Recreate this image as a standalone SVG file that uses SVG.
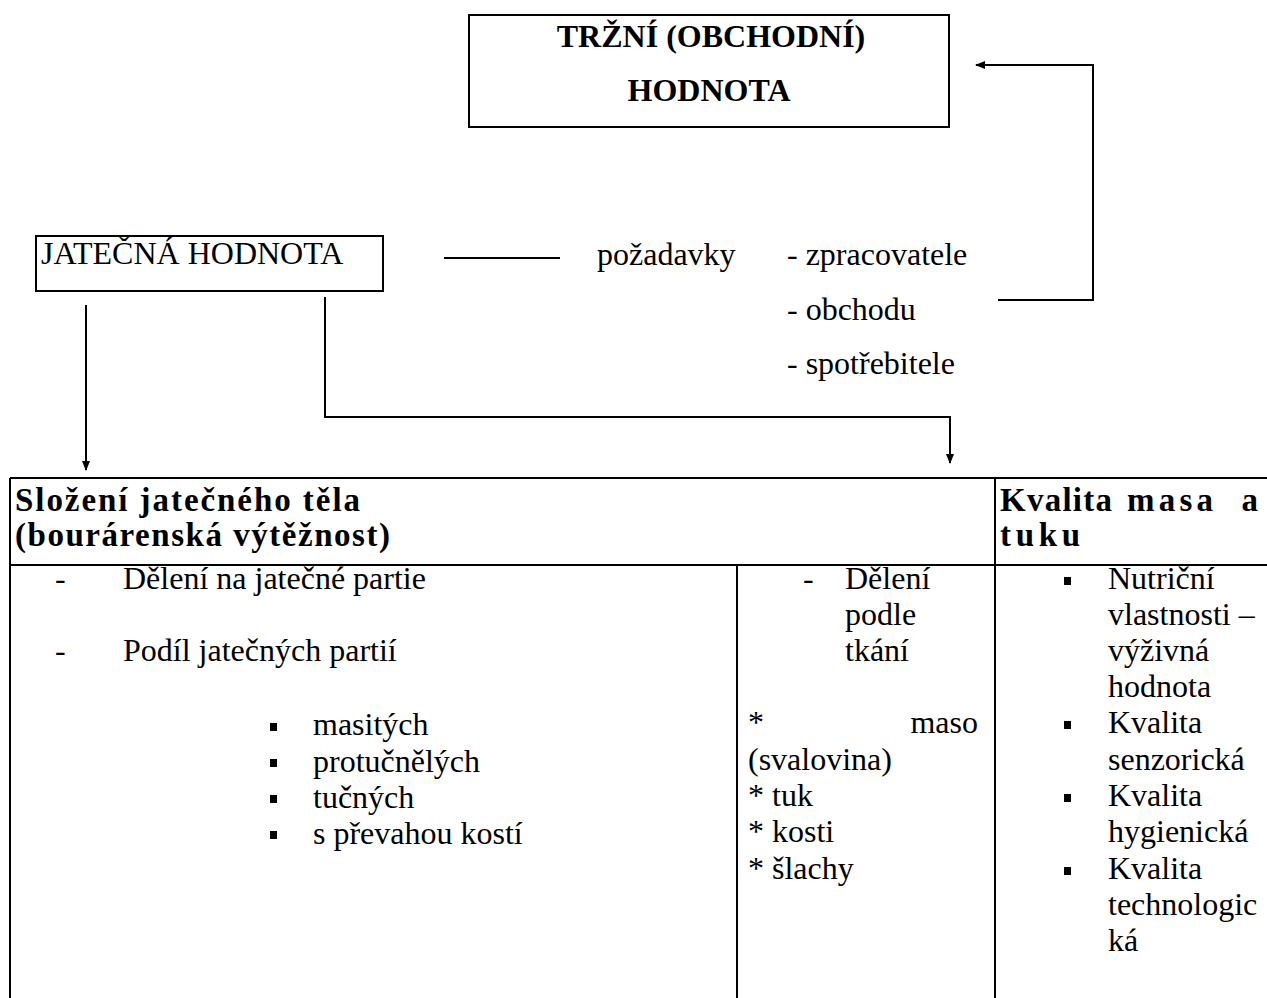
<svg xmlns="http://www.w3.org/2000/svg" width="1267" height="998" viewBox="0 0 1267 998">
<style>
.t{font-family:"Liberation Serif","Times New Roman",serif;font-size:32px;fill:#000}
.b{font-family:"Liberation Serif","Times New Roman",serif;font-size:33px;font-weight:bold;fill:#000}
.h{font-family:"Liberation Serif","Times New Roman",serif;font-size:32px;font-weight:bold;fill:#000}
.ln{stroke:#000;stroke-width:2;fill:none}
.box{stroke:#000;stroke-width:2;fill:#fff}
</style>
<defs>
<marker id="ah" markerWidth="10" markerHeight="10" refX="9" refY="5" orient="auto" markerUnits="userSpaceOnUse">
<path d="M0,1 L10,5 L0,9 Z" fill="#000"/>
</marker>
</defs>
<rect width="1267" height="998" fill="#fff"/>
<g id="trzni">
<rect class="box" x="469" y="15" width="480" height="112"/>
<text class="h" x="711" y="47" text-anchor="middle">TRŽNÍ (OBCHODNÍ)</text>
<text class="h" x="709" y="101" text-anchor="middle">HODNOTA</text>
</g>
<g id="jatecna">
<rect class="box" x="36" y="236" width="347" height="55"/>
<text class="t" x="41" y="264">JATEČNÁ HODNOTA</text>
</g>
<g id="pozadavky">
<text class="t" x="597" y="265">požadavky</text>
<text class="t" x="787" y="265">- zpracovatele</text>
<text class="t" x="787" y="320">- obchodu</text>
<text class="t" x="787" y="374">- spotřebitele</text>
</g>
<g id="connectors">
<line class="ln" x1="444" y1="258" x2="560" y2="258"/>
<path class="ln" d="M998,300 H1093 V65 H976" marker-end="url(#ah)"/>
<line class="ln" x1="86" y1="305" x2="86" y2="470" marker-end="url(#ah)"/>
<path class="ln" d="M325,297 V417 H950 V463" marker-end="url(#ah)"/>
</g>
<g id="table">
<path class="ln" d="M10,478 H1267 M10,565 H1267 M10,478 V998 M995,478 V998 M737,565 V998"/>
</g>
<g id="slozeni">
<text class="b" x="15" y="511" textLength="345" lengthAdjust="spacing">Složení jatečného těla</text>
<text class="b" x="15" y="546" textLength="375" lengthAdjust="spacing">(bourárenská výtěžnost)</text>
<text class="t" x="55" y="589">-</text>
<text class="t" x="123" y="589">Dělení na jatečné partie</text>
<text class="t" x="55" y="661">-</text>
<text class="t" x="123" y="661">Podíl jatečných partií</text>
<rect x="270" y="723" width="7" height="8"/>
<text class="t" x="313" y="735">masitých</text>
<rect x="270" y="759" width="7" height="8"/>
<text class="t" x="313" y="772">protučnělých</text>
<rect x="270" y="795" width="7" height="8"/>
<text class="t" x="313" y="808">tučných</text>
<rect x="270" y="831" width="7" height="8"/>
<text class="t" x="313" y="844">s převahou kostí</text>
</g>
<g id="tkane">
<text class="t" x="803" y="589">-</text>
<text class="t" x="845" y="589">Dělení</text>
<text class="t" x="845" y="625">podle</text>
<text class="t" x="845" y="661">tkání</text>
<text class="t" x="748" y="733">*</text>
<text class="t" x="978" y="733" text-anchor="end">maso</text>
<text class="t" x="748" y="770">(svalovina)</text>
<text class="t" x="748" y="806">* tuk</text>
<text class="t" x="748" y="842">* kosti</text>
<text class="t" x="748" y="879">* šlachy</text>
</g>
<g id="kvalita">
<text class="b" x="1000" y="511" textLength="112" lengthAdjust="spacing">Kvalita</text>
<text class="b" x="1127" y="511" textLength="86" lengthAdjust="spacing">masa</text>
<text class="b" x="1258" y="511" text-anchor="end">a</text>
<text class="b" x="1000" y="546" textLength="80" lengthAdjust="spacing">tuku</text>
<rect x="1064" y="577" width="7" height="8"/>
<text class="t" x="1108" y="589">Nutriční</text>
<text class="t" x="1108" y="625">vlastnosti –</text>
<text class="t" x="1108" y="661">výživná</text>
<text class="t" x="1108" y="697">hodnota</text>
<rect x="1064" y="721" width="7" height="8"/>
<text class="t" x="1108" y="733">Kvalita</text>
<text class="t" x="1108" y="770">senzorická</text>
<rect x="1064" y="794" width="7" height="8"/>
<text class="t" x="1108" y="806">Kvalita</text>
<text class="t" x="1108" y="842">hygienická</text>
<rect x="1064" y="867" width="7" height="8"/>
<text class="t" x="1108" y="879">Kvalita</text>
<text class="t" x="1108" y="915">technologic</text>
<text class="t" x="1108" y="951">ká</text>
</g>
</svg>
